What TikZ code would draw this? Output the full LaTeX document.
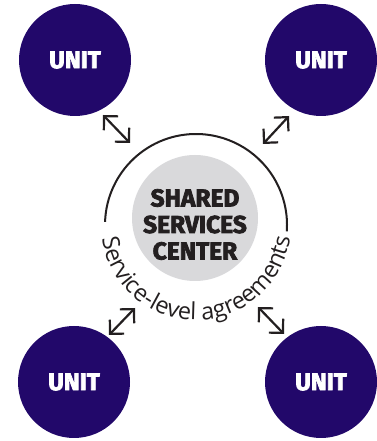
\documentclass[tikz,border=0pt]{standalone}
\usepackage{fontspec}
\setmainfont{Fira Sans}[BoldFeatures={FakeBold=3}]
\newfontfamily\slafont{Open Sans}
\usetikzlibrary{arrows.meta,decorations.text}
\definecolor{unitpurple}{RGB}{34,8,106}
\definecolor{centergray}{RGB}{217,217,219}
\definecolor{inkdark}{RGB}{35,31,32}
\begin{document}
\begin{tikzpicture}[x=1pt,y=1pt,
  unit/.style={circle,fill=unitpurple,minimum size=112pt,inner sep=0pt,text=white,font=\fontsize{24}{24}\selectfont\bfseries},
  hub/.style={circle,fill=centergray,minimum size=126pt,inner sep=0pt},
  hubtext/.style={text=inkdark,align=center,inner sep=0pt,font=\fontsize{24.5}{26.5}\selectfont\bfseries},
  link/.style={draw=inkdark,line width=2.2pt,{Straight Barb[length=10pt,width=20pt]}-{Straight Barb[length=10pt,width=20pt]}},
  ring/.style={draw=inkdark,line width=2pt}]
\useasboundingbox (0,0) rectangle (376,441);
\node[hub] (hub) at (195,223) {};
\node[hubtext] (hubtext) at (195,216.5) {SHARED\\SERVICES\\CENTER};
\node[unit] (u1) at (75,381) {UNIT};
\node[unit] (u2) at (321,381) {UNIT};
\node[unit] (u3) at (74,59) {UNIT};
\node[unit] (u4) at (321,59) {UNIT};
\coordinate (arcc) at (196,216);
\draw[ring] ([shift={(178:91)}]arcc) arc[start angle=178,end angle=-4,radius=91];
\path[decorate,decoration={text along path,text align=center,
  text={|\slafont\fontsize{23.5}{23.5}\selectfont\color{inkdark}|Service-level agreements}}]
  ([shift={(180.5:95)}]arcc) arc[start angle=180.5,end angle=360.5,radius=95];
\coordinate (a1s) at (103,326); \coordinate (a1e) at (130,298);
\coordinate (a2s) at (289,325); \coordinate (a2e) at (263,297);
\coordinate (a3s) at (135,133); \coordinate (a3e) at (109,106);
\coordinate (a4s) at (258,134); \coordinate (a4e) at (284,107);
\draw[link] (a1s) -- (a1e);
\draw[link] (a2s) -- (a2e);
\draw[link] (a3s) -- (a3e);
\draw[link] (a4s) -- (a4e);
\end{tikzpicture}
\end{document}
